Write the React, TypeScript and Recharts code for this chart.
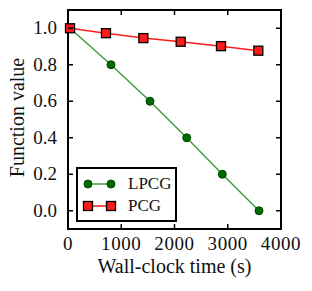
import React from 'react';
import { LineChart, Line, XAxis, YAxis, ReferenceArea, Legend } from 'recharts';

const lpcgTime = [38, 807, 1540, 2229, 2898, 3587];
const lpcgValue = [1.0, 0.8, 0.6, 0.4, 0.2, 0.0];
const pcgTime = [38, 713, 1415, 2116, 2873, 3574];
const pcgValue = [1.0, 0.973, 0.946, 0.926, 0.902, 0.877];
const xTicks = [0, 1000, 2000, 3000, 4000];
const yTicks = [0, 0.2, 0.4, 0.6, 0.8, 1.0];
const seriesNames = ['LPCG', 'PCG'];

const lpcg = lpcgTime.map((t, i) => ({ x: t, y: lpcgValue[i] }));
const pcg = pcgTime.map((t, i) => ({ x: t, y: pcgValue[i] }));

const W = 312;
const H = 291;
const M = { top: 10, right: 31, left: 0, bottom: 0 };
const Y_W = 68;
const X_H = 62;
const PL = M.left + Y_W;
const PR = W - M.right;
const PT = M.top;
const PB = H - M.bottom - X_H;
const FONT = 'Liberation Serif';
const TXT = '#111';
const GREEN_LINE = '#3f9f3f';
const GREEN_DOT = '#006a00';
const RED = '#ff1a1a';
const TL = 5;

const XTick = (p: any) => {
  const { x, payload } = p;
  const v = payload.value;
  const edge = v === xTicks[0] || v === xTicks[xTicks.length - 1];
  return (
    <g>
      {!edge && <line x1={x} x2={x} y1={PB} y2={PB - TL} stroke="#000" strokeWidth={1.5} />}
      {!edge && <line x1={x} x2={x} y1={PT} y2={PT + TL} stroke="#000" strokeWidth={1.5} />}
      <text x={x} y={PB + 20.5} textAnchor="middle" fontFamily={FONT} fontSize={19} fill={TXT} letterSpacing={0.6}>
        {String(v)}
      </text>
    </g>
  );
};

const YTick = (p: any) => {
  const { y, payload } = p;
  return (
    <g>
      <line x1={PL} x2={PL + TL} y1={y} y2={y} stroke="#000" strokeWidth={1.5} />
      <line x1={PR} x2={PR - TL} y1={y} y2={y} stroke="#000" strokeWidth={1.5} />
      <text x={PL - 11} y={y + 6} textAnchor="end" fontFamily={FONT} fontSize={19} fill={TXT}>
        {Number(payload.value).toFixed(1)}
      </text>
    </g>
  );
};

const SquareDot = (p: any) => {
  const { cx, cy, index } = p;
  if (cx == null || cy == null) return <g key={index} />;
  return <rect key={index} x={cx - 4.5} y={cy - 4.5} width={9} height={9} fill={RED} stroke="#000" strokeWidth={1.3} />;
};

const LegendBox = () => (
  <div
    style={{
      boxSizing: 'border-box',
      width: 101,
      height: 55,
      border: '2px solid #000',
      background: '#fff',
      position: 'relative',
      fontFamily: FONT,
      fontSize: 17,
      color: TXT,
    }}
  >
    {seriesNames.map((name, i) => (
      <div key={name} style={{ position: 'absolute', left: 0, top: i === 0 ? 6 : 28, height: 18, width: 97 }}>
        <svg width={40} height={18} style={{ position: 'absolute', left: 0, top: 0 }}>
          <line x1={10} x2={33} y1={9} y2={9} stroke={i === 0 ? GREEN_LINE : RED} strokeWidth={1.5} />
          {i === 0 ? (
            <>
              <circle cx={10} cy={9} r={4} fill={GREEN_DOT} stroke="#004a00" strokeWidth={1} />
              <circle cx={33} cy={9} r={4} fill={GREEN_DOT} stroke="#004a00" strokeWidth={1} />
            </>
          ) : (
            <>
              <rect x={5.5} y={4.5} width={9} height={9} fill={RED} stroke="#000" strokeWidth={1.3} />
              <rect x={28.5} y={4.5} width={9} height={9} fill={RED} stroke="#000" strokeWidth={1.3} />
            </>
          )}
        </svg>
        <span style={{ position: 'absolute', left: 50, top: 0, lineHeight: '18px', whiteSpace: 'nowrap', fontFamily: FONT }}>{name}</span>
      </div>
    ))}
  </div>
);

export default function App() {
  return (
    <div style={{ position: 'absolute', left: 0, top: 0, background: '#fff' }}>
      <LineChart width={W} height={H} margin={M}>
        <XAxis
          dataKey="x"
          type="number"
          domain={[0, 4000]}
          ticks={xTicks}
          tickSize={0}
          tickMargin={0}
          tickLine={false}
          axisLine={false}
          height={X_H}
          tick={XTick}
          label={{
            content: () => (
              <text x={(PL + PR) / 2} y={PB + 44} textAnchor="middle" fontFamily={FONT} fontSize={20} fill={TXT}>
                Wall-clock time (s)
              </text>
            ),
          }}
        />
        <YAxis
          type="number"
          domain={[-0.1, 1.1]}
          ticks={yTicks}
          tickSize={0}
          tickMargin={0}
          tickLine={false}
          axisLine={false}
          width={Y_W}
          tick={YTick}
          label={{
            content: () => (
              <text
                transform={`translate(24, ${(PT + PB) / 2 - 2}) rotate(-90)`}
                textAnchor="middle"
                fontFamily={FONT}
                fontSize={20}
                fill={TXT}
              >
                Function value
              </text>
            ),
          }}
        />
        <ReferenceArea x1={0} x2={4000} y1={-0.1} y2={1.1} fill="none" fillOpacity={0} stroke="#000" strokeWidth={2} strokeOpacity={1} />
        <Line
          data={lpcg}
          dataKey="y"
          name={seriesNames[0]}
          stroke={GREEN_LINE}
          strokeWidth={1.5}
          dot={{ r: 4, fill: GREEN_DOT, stroke: '#004a00', strokeWidth: 1 }}
          isAnimationActive={false}
        />
        <Line
          data={pcg}
          dataKey="y"
          name={seriesNames[1]}
          stroke={RED}
          strokeWidth={1.5}
          dot={SquareDot}
          isAnimationActive={false}
        />
        <Legend
          layout="vertical"
          align="center"
          verticalAlign="middle"
          content={LegendBox}
          wrapperStyle={{ left: 76, top: 167, width: 101, height: 55 }}
        />
      </LineChart>
    </div>
  );
}
